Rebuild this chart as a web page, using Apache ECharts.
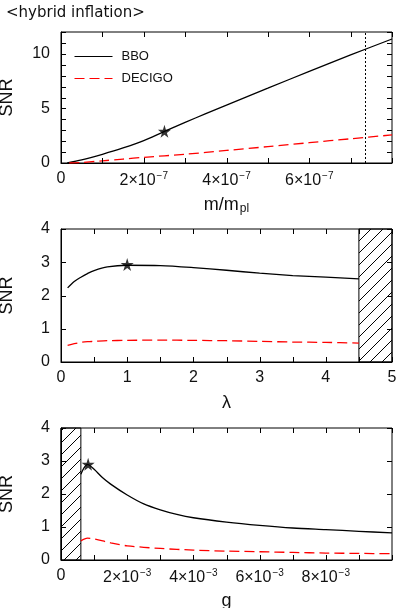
<!DOCTYPE html>
<html>
<head>
<meta charset="utf-8">
<script src="https://cdn.jsdelivr.net/npm/echarts@6/dist/echarts.min.js"></script>
<style>
  html, body { margin: 0; padding: 0; background: #fff; }
  #chart { width: 399px; height: 608px; }
</style>
</head>
<body>
<div id="chart"></div>
<script>
// panel 1: SNR vs m/m_pl (x in units of 1e-7)
const massE7 = [0.15, 0.5, 1, 1.5, 2, 2.5, 3, 3.5, 4, 5, 6, 7, 8]
const bboMass = [0, 0.28, 0.8, 1.38, 2.05, 2.9, 3.72, 4.52, 5.3, 6.85, 8.4, 9.9, 11.36]
const massE7Dec = [0.2, 0.5, 1, 1.5, 2, 3, 4, 5, 6, 7, 8]
const decigoMass = [0, 0.05, 0.2, 0.36, 0.52, 0.8, 1.15, 1.5, 1.86, 2.22, 2.57]
const starMass = [2.5, 2.9]
const massLimit = 7.35

// panel 2: SNR vs lambda
const lambdaVals = [0.1, 0.2, 0.3, 0.4, 0.5, 0.7, 1, 1.5, 2, 2.5, 3, 3.5, 4, 4.5]
const bboLambda = [2.23, 2.42, 2.55, 2.66, 2.75, 2.86, 2.91, 2.9, 2.84, 2.76, 2.67, 2.6, 2.55, 2.5]
const decigoLambda = [0.5, 0.55, 0.59, 0.61, 0.62, 0.64, 0.65, 0.66, 0.65, 0.64, 0.62, 0.6, 0.59, 0.57]
const starLambda = [1.0, 2.93]
const lambdaExcluded = [4.5, 5]

// panel 3: SNR vs g (x in units of 1e-3)
const gE3 = [0.6, 0.7, 0.8, 1, 1.25, 1.5, 2, 2.5, 3, 3.5, 4, 5, 6, 7, 8, 9, 10]
const bboG = [2.6, 2.8, 2.9, 2.75, 2.5, 2.3, 1.97, 1.7, 1.52, 1.38, 1.28, 1.15, 1.05, 0.97, 0.92, 0.87, 0.82]
const gE3Dec = [0.6, 0.8, 1, 1.5, 2, 3, 4, 5, 6, 7, 8, 9, 10]
const decigoG = [0.58, 0.66, 0.64, 0.52, 0.43, 0.35, 0.3, 0.27, 0.25, 0.23, 0.21, 0.2, 0.19]
const starG = [0.82, 2.9]
const gExcluded = [0, 0.6]

// axis ranges: [xMax, xStep, yMax, yStep]
const axesRange = [[8, 1, 12, 1], [5, 0.5, 4, 1], [10, 1, 4, 1]]

const FONT = 'Liberation Sans'
const TXT = '#111'
const starPath = 'path://M50,0 L61,35 L98,35 L68,57 L79,91 L50,70 L21,91 L32,57 L2,35 L39,35 Z'

// hatch pattern for excluded regions
function hatch() {
  const c = document.createElement('canvas')
  c.width = 12
  c.height = 12
  const ctx = c.getContext('2d')
  ctx.strokeStyle = '#000'
  ctx.lineWidth = 1
  ctx.beginPath()
  ctx.moveTo(-1, 13); ctx.lineTo(13, -1)
  ctx.moveTo(-1, 1); ctx.lineTo(1, -1)
  ctx.moveTo(11, 13); ctx.lineTo(13, 11)
  ctx.stroke()
  return { image: c, repeat: 'repeat' }
}

const grids = [
  { left: 61, right: 7, top: 32, height: 131 },
  { left: 61, right: 7, top: 229, height: 133 },
  { left: 61, right: 7, top: 428, height: 132 }
].map(g => Object.assign(g, {
  show: true, borderColor: '#000', borderWidth: 1, backgroundColor: 'transparent',
  containLabel: false, outerBoundsMode: 'none'
}))

const sup = { fontSize: 10, fontFamily: FONT, color: TXT, verticalAlign: 'top', padding: [0, 0, 9, 1] }
const base = { fontSize: 16, fontFamily: FONT, color: TXT }

function expLabel(exp, maxN) {
  return function (v) {
    const n = Math.round(v)
    if (Math.abs(v - n) > 1e-6) return ''
    if (n === 0) return '0'
    if (n % 2 === 0 && n < maxN) return '{b|' + n + '×10}{s|−' + exp + '}'
    return ''
  }
}

function mainX(gi, formatter, name, nameRich) {
  return {
    type: 'value', gridIndex: gi, min: 0, max: axesRange[gi][0], interval: axesRange[gi][1],
    position: 'bottom',
    name: name, nameLocation: 'middle', nameGap: 32,
    nameTextStyle: { fontSize: 18, fontFamily: FONT, color: TXT, rich: nameRich },
    axisLine: { show: true, onZero: false, lineStyle: { color: '#000', width: 1 } },
    axisTick: { show: false },
    axisLabel: { margin: 8, formatter: formatter, fontSize: 16, fontFamily: FONT, color: TXT,
      rich: { b: base, s: sup }, showMaxLabel: true },
    splitLine: { show: false }
  }
}
function mainY(gi, formatter) {
  return {
    type: 'value', gridIndex: gi, min: 0, max: axesRange[gi][2], interval: axesRange[gi][3], position: 'left',
    name: 'SNR', nameLocation: 'middle', nameGap: 45,
    nameTextStyle: { fontSize: 18, fontFamily: FONT, color: TXT },
    axisLine: { show: true, onZero: false, lineStyle: { color: '#000', width: 1 } },
    axisTick: { show: false },
    axisLabel: { margin: 11, formatter: formatter, fontSize: 16, fontFamily: FONT, color: TXT },
    splitLine: { show: false }
  }
}

const zip = (xs, ys) => xs.map((x, i) => [x, ys[i]])

function bboLine(name, gi, data, extra) {
  return Object.assign({
    name: name, type: 'line', xAxisIndex: gi, yAxisIndex: gi, data: data,
    symbol: 'none', smooth: 0.3, z: 3,
    lineStyle: { color: '#000', width: 1.3 }, itemStyle: { color: '#000' }
  }, extra || {})
}
function decLine(name, gi, data) {
  return {
    name: name, type: 'line', xAxisIndex: gi, yAxisIndex: gi, data: data,
    symbol: 'none', smooth: 0.3, z: 3,
    lineStyle: { color: '#ff0000', width: 1.3, type: [10, 5] }, itemStyle: { color: '#ff0000' }
  }
}
function star(gi, pt) {
  return {
    type: 'scatter', xAxisIndex: gi, yAxisIndex: gi, data: [pt],
    symbol: starPath, symbolSize: 13, z: 5, itemStyle: { color: '#000' }, silent: true
  }
}
function hatchArea(xs) {
  return {
    silent: true,
    itemStyle: { color: hatch(), borderColor: '#000', borderWidth: 1 },
    data: [[{ xAxis: xs[0] }, { xAxis: xs[1] }]]
  }
}

const chart = echarts.init(document.getElementById('chart'), null, { renderer: 'canvas' })

const option = {
  animation: false,
  backgroundColor: '#fff',
  title: {
    text: '<hybrid inflation>', left: 1, top: 1,
    textStyle: { fontSize: 15, fontWeight: 'normal', fontFamily: 'DejaVu Sans', color: TXT }
  },
  legend: {
    data: ['BBO', 'DECIGO'], orient: 'vertical', left: 69, top: 45,
    itemWidth: 38, itemHeight: 14, itemGap: 9,
    itemStyle: { opacity: 0 },
    lineStyle: { width: 1 },
    textStyle: { fontSize: 13, fontFamily: FONT, color: TXT, padding: [0, 0, 0, 4] }
  },
  grid: grids,
  xAxis: [
    mainX(0, expLabel(7, 8), '{a|m/m}{p|pl}', {
      a: { fontSize: 18, fontFamily: FONT, color: TXT },
      p: { fontSize: 12, fontFamily: FONT, color: TXT, verticalAlign: 'bottom', padding: [8, 0, 0, 1] }
    }),
    mainX(1, v => (Math.abs(v - Math.round(v)) < 1e-6 ? String(Math.round(v)) : ''), 'λ'),
    mainX(2, expLabel(3, 10), 'g')
  ],
  yAxis: [
    mainY(0, v => (v % 5 === 0 ? String(v) : '')),
    mainY(1, v => String(v)),
    mainY(2, v => String(v))
  ],
  series: [
    bboLine('BBO', 0, zip(massE7, bboMass), {
      markLine: {
        silent: true, symbol: ['none', 'none'], label: { show: false },
        lineStyle: { color: '#000', type: [2, 2], width: 1 },
        data: [{ xAxis: massLimit }]
      }
    }),
    decLine('DECIGO', 0, zip(massE7Dec, decigoMass)),
    star(0, starMass),
    bboLine('BBO', 1, zip(lambdaVals, bboLambda), { markArea: hatchArea(lambdaExcluded) }),
    decLine('DECIGO', 1, zip(lambdaVals, decigoLambda)),
    star(1, starLambda),
    bboLine('BBO', 2, zip(gE3, bboG), { markArea: hatchArea(gExcluded) }),
    decLine('DECIGO', 2, zip(gE3Dec, decigoG)),
    star(2, starG)
  ]
}

chart.setOption(option)

// inward ticks on all four sides of every panel, placed through the axis scales
const L = 5
const tickEls = []
axesRange.forEach((r, gi) => {
  const finder = { gridIndex: gi }
  const x0 = chart.convertToPixel(finder, [0, 0])[0]
  const x1 = chart.convertToPixel(finder, [r[0], 0])[0]
  const yb = chart.convertToPixel(finder, [0, 0])[1]
  const yt = chart.convertToPixel(finder, [0, r[2]])[1]
  const seg = (a, b, c, d) => tickEls.push({
    type: 'line', silent: true, z: 100,
    shape: { x1: a, y1: b, x2: c, y2: d },
    style: { stroke: '#000', lineWidth: 1 }
  })
  for (let v = 0; v <= r[0] + 1e-9; v += r[1]) {
    const x = Math.round(chart.convertToPixel(finder, [v, 0])[0]) + 0.5
    seg(x, yb, x, yb - L)
    seg(x, yt, x, yt + L)
  }
  for (let v = 0; v <= r[2] + 1e-9; v += r[3]) {
    const y = Math.round(chart.convertToPixel(finder, [0, v])[1]) + 0.5
    seg(x0, y, x0 + L, y)
    seg(x1, y, x1 - L, y)
  }
})
chart.setOption({ graphic: { elements: tickEls } })
</script>
</body>
</html>
